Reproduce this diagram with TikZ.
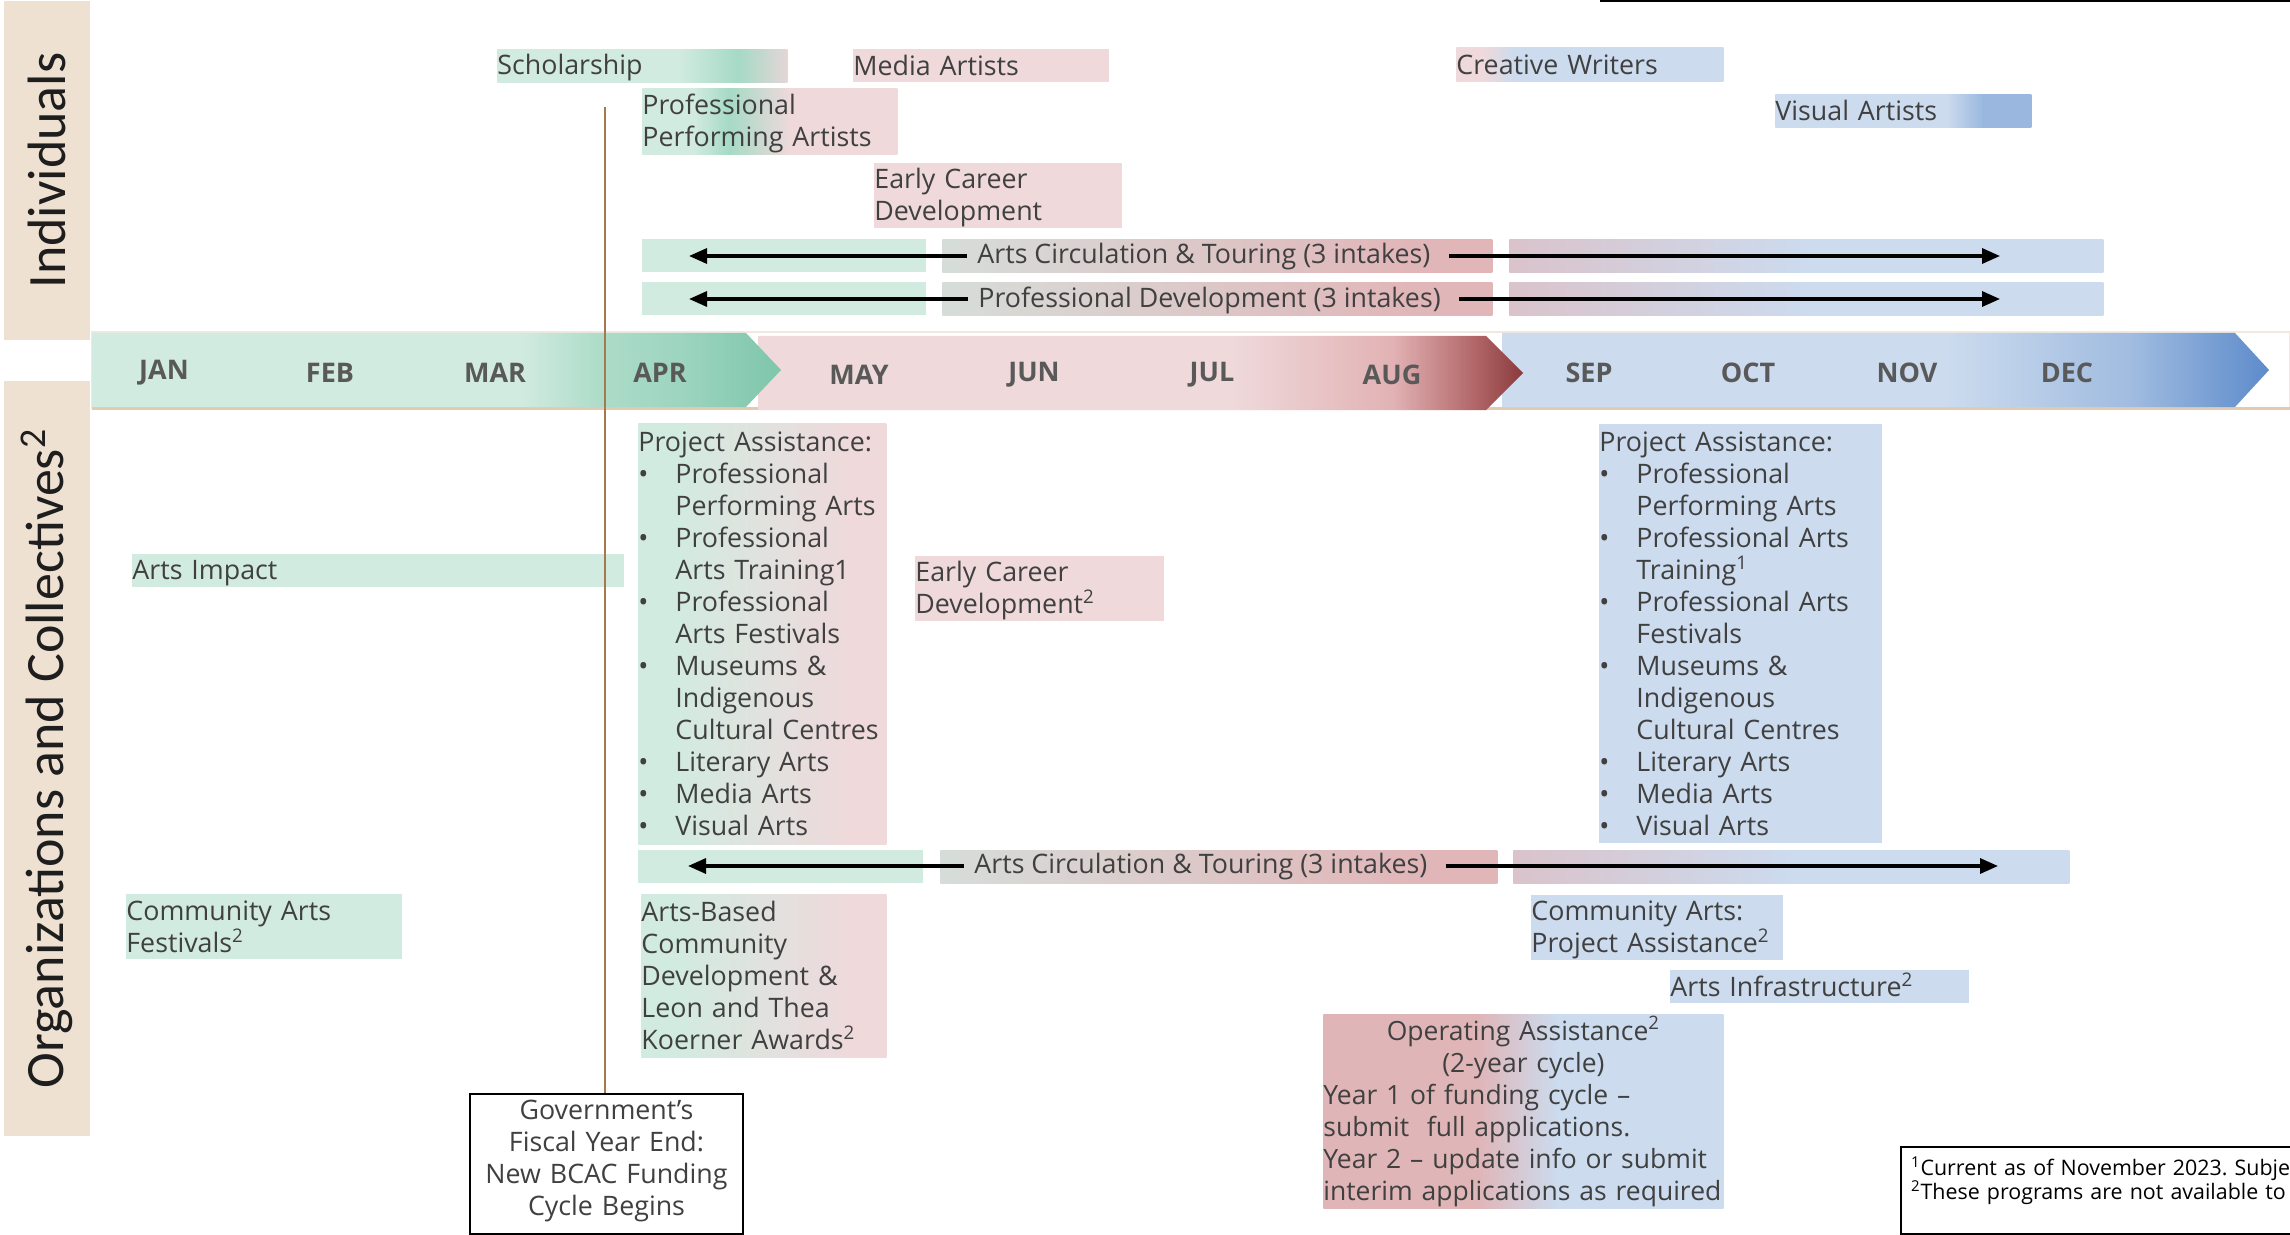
\documentclass[tikz,border=0pt]{standalone}
\usepackage{fontspec}
\setmainfont{Open Sans}
\newfontfamily\sidefont{Carlito}
\usetikzlibrary{arrows.meta}
\frenchspacing

\definecolor{lg}{RGB}{210,235,224}
\definecolor{dg}{RGB}{166,218,198}
\definecolor{pg}{RGB}{228,214,214}
\definecolor{lp}{RGB}{239,217,219}
\definecolor{mp}{RGB}{225,182,185}
\definecolor{mpb}{RGB}{224,181,183}
\definecolor{lb}{RGB}{204,219,238}
\definecolor{mb}{RGB}{154,184,223}
\definecolor{cgray}{RGB}{214,221,217}
\definecolor{cpg}{RGB}{218,195,203}
\definecolor{gA}{RGB}{172,220,200}
\definecolor{gB}{RGB}{158,213,192}
\definecolor{gC}{RGB}{126,198,171}
\definecolor{pA}{RGB}{226,178,180}
\definecolor{pB}{RGB}{176,100,102}
\definecolor{pC}{RGB}{138,58,60}
\definecolor{bA}{RGB}{160,188,224}
\definecolor{bC}{RGB}{93,139,203}
\definecolor{beige}{RGB}{239,225,209}
\definecolor{barlight}{RGB}{242,232,222}
\definecolor{barline}{RGB}{228,202,176}
\definecolor{txt}{RGB}{64,64,64}
\definecolor{mtxt}{RGB}{89,89,89}
\definecolor{sidetxt}{RGB}{30,30,30}
\definecolor{fiscal}{RGB}{165,120,78}

\pgfdeclarehorizontalshading{shScholar}{100bp}{color(0bp)=(lg); color(56bp)=(lg); color(66.5bp)=(dg); color(75bp)=(pg); color(100bp)=(pg)}
\pgfdeclarehorizontalshading{shPPA}{100bp}{color(0bp)=(lg); color(35bp)=(lg); color(42bp)=(dg); color(54bp)=(lp); color(100bp)=(lp)}
\pgfdeclarehorizontalshading{shCW}{100bp}{color(0bp)=(lp); color(30bp)=(lp); color(36bp)=(lb); color(100bp)=(lb)}
\pgfdeclarehorizontalshading{shVA}{100bp}{color(0bp)=(lb); color(58.5bp)=(lb); color(65.5bp)=(mb); color(100bp)=(mb)}
\pgfdeclarehorizontalshading{shCircMid}{100bp}{color(0bp)=(cgray); color(25bp)=(cgray); color(67.5bp)=(mp); color(100bp)=(mp)}
\pgfdeclarehorizontalshading{shCircRight}{100bp}{color(0bp)=(cpg); color(25bp)=(cpg); color(50bp)=(lb); color(100bp)=(lb)}
\pgfdeclarehorizontalshading{shPA}{100bp}{color(0bp)=(lg); color(32.5bp)=(lg); color(67.5bp)=(lp); color(100bp)=(lp)}
\pgfdeclarehorizontalshading{shOPA}{100bp}{color(0bp)=(mpb); color(44.25bp)=(mpb); color(54.25bp)=(lb); color(100bp)=(lb)}
\pgfdeclarehorizontalshading{shMonthG}{100bp}{color(0bp)=(lg); color(56bp)=(lg); color(62bp)=(gA); color(67.5bp)=(gB); color(75bp)=(gC); color(100bp)=(gC)}
\pgfdeclarehorizontalshading{shMonthP}{100bp}{color(0bp)=(lp); color(56bp)=(lp); color(66.5bp)=(pA); color(72bp)=(pB); color(75bp)=(pC); color(100bp)=(pC)}
\pgfdeclarehorizontalshading{shMonthB}{100bp}{color(0bp)=(lb); color(54bp)=(lb); color(66bp)=(bA); color(75bp)=(bC); color(100bp)=(bC)}

\newcommand\bodyfnt{\fontsize{13.4}{16}\selectfont}
\newcommand\opafnt{\fontsize{13.25}{16}\selectfont}
\newcommand\monthfnt{\fontsize{13.5}{16}\selectfont\bfseries}
\newcommand\footfnt{\fontsize{10.7}{12}\selectfont}
\newcommand\pbul{\makebox[18.5pt][l]{\textbullet}}
\newcommand\pind{\hspace*{18.5pt}}

\begin{document}
\begin{tikzpicture}[x=0.5pt,y=-0.5pt,
  bx/.style 2 args={anchor=north west, inner sep=0pt, text width=#1, minimum height=#2, align=left, font=\bodyfnt, text=txt,
    execute at begin node={\rule{0pt}{12pt}}, execute at end node={\rule[-2pt]{0pt}{2pt}}},
  month/.style={font=\monthfnt, text=mtxt, inner sep=0pt},
  sidelab/.style={rotate=90, fill=beige, inner sep=0pt, font=\sidefont\fontsize{27}{32}\selectfont, text=sidetxt},
  arrtext/.style={anchor=west, inner xsep=5pt, inner ysep=0pt, font=\bodyfnt, text=txt},
  conn/.style={line width=1.6pt, -{Triangle[length=9pt,width=7.5pt]}},
  fiscalline/.style={draw=fiscal, line width=1pt},
  govbox/.style={draw=black, line width=1pt, inner xsep=3.25pt, inner ysep=0pt, text width=130pt, minimum height=70pt, align=center, font=\bodyfnt, text=txt,
    execute at end node={\rule[-6.2pt]{0pt}{6.2pt}}},
  footbox/.style={draw=black, line width=1pt, anchor=north west, inner xsep=5pt, inner ysep=0pt, text width=200pt, minimum height=43.5pt, align=left, font=\footfnt, text=black}
]
\useasboundingbox (0,0) rectangle (2290,1235);
\fill[white] (0,0) rectangle (2290,1235);

% top border fragment
\draw[line width=1.5pt] (1600,1) -- (2290,1);

% side labels
\node[sidelab, minimum width=169.5pt, minimum height=43pt] (indiv) at (47,170.5) {Individuals};
\node[sidelab, minimum width=377.5pt, minimum height=43pt] (orgs) at (47,758.5) {Organizations and Collectives\textsuperscript{2}};

% month bar
\draw[barlight, line width=0.75pt] (92,332) rectangle (2290,408);
\draw[barline, line width=1.2pt] (92,408.5) -- (2290,408.5);
\shade[shading=shMonthB] (1502,333) -- (2235,333) -- (2269,370) -- (2235,407) -- (1502,407) -- cycle;
\shade[shading=shMonthP] (758,336) -- (1486,336) -- (1523,373) -- (1486,410) -- (758,410) -- cycle;
\shade[shading=shMonthG] (92,333) -- (746,333) -- (781,370) -- (746,407) -- (92,407) -- cycle;
\foreach \m/\x/\y in {JAN/164/373, FEB/330/373, MAR/495/373, APR/660/373, MAY/859/375, JUN/1034/375, JUL/1212/375, AUG/1392/375, SEP/1589/373, OCT/1748/373, NOV/1907/373, DEC/2067/373}
  \node[month] (m\m) at (\x,\y) {\m};

% Individuals
\node[bx={145pt}{16.5pt}, shade, shading=shScholar] (scholar) at (497,49) {Scholarship};
\node[bx={128pt}{16.5pt}, fill=lp] (media) at (853,49) {Media Artists};
\node[bx={127.5pt}{33pt}, shade, shading=shPPA] (ppa) at (642,88) {Professional\\Performing Artists};
\node[bx={124pt}{32.5pt}, fill=lp] (ecdI) at (874,163) {Early Career\\Development};
\node[bx={133.5pt}{17pt}, shade, shading=shCW] (cw) at (1456,47) {Creative Writers};
\node[bx={128pt}{16.5pt}, shade, shading=shVA] (va) at (1775,94) {Visual Artists};

\node[bx={142pt}{16.5pt}, fill=lg] (ciA) at (642,239) {};
\node[bx={275pt}{16.5pt}, shade, shading=shCircMid] (ciB) at (942,239) {};
\node[bx={297pt}{16.5pt}, shade, shading=shCircRight] (ciC) at (1509,239) {};
\node[bx={142pt}{16.5pt}, fill=lg] (pdA) at (642,282) {};
\node[bx={275pt}{16.5pt}, shade, shading=shCircMid] (pdB) at (942,282) {};
\node[bx={297pt}{16.5pt}, shade, shading=shCircRight] (pdC) at (1509,282) {};

\node[arrtext] (circI) at (967,257) {Arts Circulation \& Touring (3 intakes)};
\coordinate (circIL) at (689,256);
\coordinate (circIR) at (2000,256);
\draw[conn] (circI.west |- circIL) -- (circIL);
\draw[conn] ([xshift=4pt]circI.east |- circIR) -- (circIR);

\node[arrtext] (pdI) at (968,300) {Professional Development (3 intakes)};
\coordinate (pdIL) at (689,299);
\coordinate (pdIR) at (2000,299);
\draw[conn] (pdI.west |- pdIL) -- (pdIL);
\draw[conn] ([xshift=4pt]pdI.east |- pdIR) -- (pdIR);

% Organizations
\node[bx={246pt}{16.5pt}, fill=lg] (impact) at (132,554) {Arts Impact};
\node[bx={124pt}{210.5pt}, shade, shading=shPA] (paL) at (638,423) {Project Assistance:\\
\pbul Professional\\ \pind Performing Arts\\
\pbul Professional\\ \pind Arts Training1\\
\pbul Professional\\ \pind Arts Festivals\\
\pbul Museums \&\\ \pind Indigenous\\ \pind Cultural Centres\\
\pbul Literary Arts\\
\pbul Media Arts\\
\pbul Visual Arts};
\node[bx={124.5pt}{32.5pt}, fill=lp] (ecdO) at (915,556) {Early Career\\Development\textsuperscript{2}};
\node[bx={141.5pt}{209.5pt}, fill=lb] (paR) at (1599,424) {Project Assistance:\\
\pbul Professional\\ \pind Performing Arts\\
\pbul Professional Arts\\ \pind Training\textsuperscript{1}\\
\pbul Professional Arts\\ \pind Festivals\\
\pbul Museums \&\\ \pind Indigenous\\ \pind Cultural Centres\\
\pbul Literary Arts\\
\pbul Media Arts\\
\pbul Visual Arts};

\node[bx={142.5pt}{16.5pt}, fill=lg] (coA) at (638,850) {};
\node[bx={278.5pt}{16.5pt}, shade, shading=shCircMid] (coB) at (940,850) {};
\node[bx={278pt}{16.5pt}, shade, shading=shCircRight] (coC) at (1513,850) {};
\node[arrtext] (circO) at (964,867) {Arts Circulation \& Touring (3 intakes)};
\coordinate (circOL) at (688,866);
\coordinate (circOR) at (1998,866);
\draw[conn] (circO.west |- circOL) -- (circOL);
\draw[conn] ([xshift=4pt]circO.east |- circOR) -- (circOR);

\node[bx={138pt}{32.5pt}, fill=lg] (caf) at (126,894) {Community Arts\\Festivals\textsuperscript{2}};
\node[bx={122.5pt}{81.5pt}, shade, shading=shPA] (abcd) at (641,894) {Arts-Based\\Community\\Development \&\\Leon and Thea\\Koerner Awards\textsuperscript{2}};
\node[bx={126pt}{32.5pt}, fill=lb] (capa) at (1531,895) {Community Arts:\\Project Assistance\textsuperscript{2}};
\node[bx={149.5pt}{16.5pt}, fill=lb] (infra) at (1670,970) {Arts Infrastructure\textsuperscript{2}};
\node[bx={200pt}{97pt}, shade, shading=shOPA, font=\opafnt] (opa) at (1323,1014) {\centering Operating Assistance\textsuperscript{2}\\(2-year cycle)\par
\raggedright Year 1 of funding cycle –\\submit\ \ full applications.\\Year 2 – update info or submit\\\mbox{interim applications as required}};

% fiscal year
\node[govbox] (gov) at (606.5,1164) {Government’s\\Fiscal Year End:\\New BCAC Funding\\Cycle Begins};
\coordinate (fyTop) at (605,107);
\draw[fiscalline] (fyTop) -- (fyTop |- gov.north);

% footnotes
\node[footbox] (foot) at (1900,1146) {\textsuperscript{1}Current as of November 2023. Subje\\\textsuperscript{2}These programs are not available to\\\mbox{}};
\end{tikzpicture}
\end{document}
